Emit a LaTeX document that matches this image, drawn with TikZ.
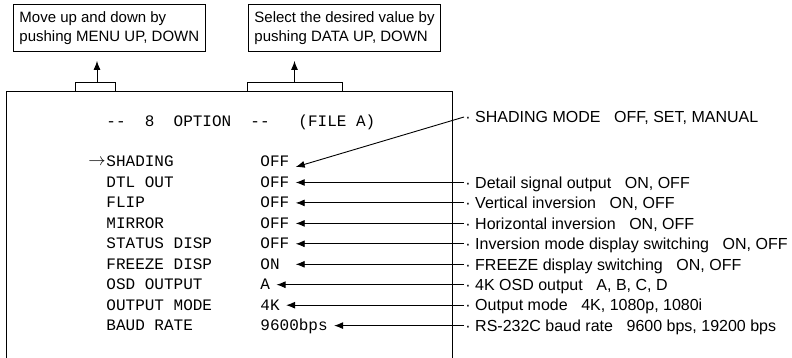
\documentclass[tikz,border=0pt]{standalone}
\usepackage{fontspec}
\setmainfont{Liberation Sans}
\setmonofont{Liberation Mono}
\usetikzlibrary{arrows.meta, positioning}

\newcommand{\optgap}{\hspace{0.85em}}

\tikzset{
  keybox/.style={draw, rectangle, align=left, inner xsep=6pt, minimum height=47pt,
    anchor=north west, font=\fontsize{15}{19}\selectfont},
  tab/.style={draw, rectangle, minimum height=9pt, inner sep=0pt},
  opt/.style={anchor=west, inner sep=0pt, text height=10pt, text depth=0pt,
    font=\fontsize{16}{16}\ttfamily},
  val/.style={opt, inner xsep=6pt},
  note/.style={anchor=west, inner xsep=1pt, inner ysep=0pt, text height=11.5pt,
    text depth=0pt, font=\fontsize{16}{16}\selectfont},
}

\begin{document}
\begin{tikzpicture}[x=1pt, y=-1pt, >={Latex[length=9pt,width=7pt]}, line width=0.9pt]
    \useasboundingbox (0,0) rectangle (792,358);

    % screen frame, cut off at the bottom
    \draw (6,358) -- (6,91) -- (452,91) -- (452,358);

    % key boxes and their tabs
    \node [keybox] (menuBox) at (13,4) {Move up and down by\\pushing MENU UP, DOWN};
    \node [keybox] (dataBox) at (248,4) {Select the desired value by\\pushing DATA UP, DOWN};
    \node [tab, minimum width=40pt] (menuTab) at (95,86.5) {};
    \node [tab, minimum width=95pt] (dataTab) at (294.5,86.5) {};
    \draw[->, shorten >=9pt] ([xshift=2pt]menuTab.north) -- ([xshift=2pt]menuTab.north |- menuBox.south);
    \draw[->, shorten >=9pt] (dataTab) -- (dataTab |- dataBox.south);

    % menu page
    \node [opt] (title) at (106,122) {-{}-~~8~~OPTION~~-{}-~~~(FILE~A)};
    \node [anchor=east, inner sep=0pt, font=\fontsize{16}{16}\selectfont] (cursor) at (106,162) {$\rightarrow$};

    \node [opt] (oSHD) at (106,162.0) {SHADING};
    \node [opt] (oDTL) at (106,182.5) {DTL OUT};
    \node [opt] (oFLP) at (106,202.9) {FLIP};
    \node [opt] (oMIR) at (106,223.4) {MIRROR};
    \node [opt] (oSTA) at (106,243.8) {STATUS DISP};
    \node [opt] (oFRZ) at (106,264.3) {FREEZE DISP};
    \node [opt] (oOSD) at (106,284.7) {OSD OUTPUT};
    \node [opt] (oOUT) at (106,305.2) {OUTPUT MODE};
    \node [opt] (oBAU) at (106,325.6) {BAUD RATE};

    \node [val] (vSHD) at (254,162.0) {OFF};
    \node [val] (vDTL) at (254,182.5) {OFF};
    \node [val] (vFLP) at (254,202.9) {OFF};
    \node [val] (vMIR) at (254,223.4) {OFF};
    \node [val] (vSTA) at (254,243.8) {OFF};
    \node [val] (vFRZ) at (254,264.3) {ON\phantom{F}};
    \node [val] (vOSD) at (254,284.7) {A};
    \node [val] (vOUT) at (254,305.2) {4K};
    \node [val] (vBAU) at (254,325.6) {9600bps};

    % explanations
    \node [note] (nSHD) at (464,117.0) {· SHADING MODE\optgap OFF, SET, MANUAL};
    \node [note] (nDTL) at (464,182.5) {· Detail signal output\optgap ON, OFF};
    \node [note] (nFLP) at (464,202.9) {· Vertical inversion\optgap ON, OFF};
    \node [note] (nMIR) at (464,223.4) {· Horizontal inversion\optgap ON, OFF};
    \node [note] (nSTA) at (464,243.8) {· Inversion mode display switching\optgap ON, OFF};
    \node [note] (nFRZ) at (464,264.3) {· FREEZE display switching\optgap ON, OFF};
    \node [note] (nOSD) at (464,284.7) {· 4K OSD output\optgap A, B, C, D};
    \node [note] (nOUT) at (464,305.2) {· Output mode\optgap 4K, 1080p, 1080i};
    \node [note] (nBAU) at (464,325.6) {· RS-232C baud rate\optgap 9600 bps, 19200 bps};

    \draw[->] (nSHD.west) -- (vSHD.base east);
    \draw[->] (nDTL.west) -- (vDTL.east);
    \draw[->] (nFLP.west) -- (vFLP.east);
    \draw[->] (nMIR.west) -- (vMIR.east);
    \draw[->] (nSTA.west) -- (vSTA.east);
    \draw[->] (nFRZ.west) -- (vFRZ.east);
    \draw[->] (nOSD.west) -- (vOSD.east);
    \draw[->] (nOUT.west) -- (vOUT.east);
    \draw[->] (nBAU.west) -- (vBAU.east);
\end{tikzpicture}
\end{document}
